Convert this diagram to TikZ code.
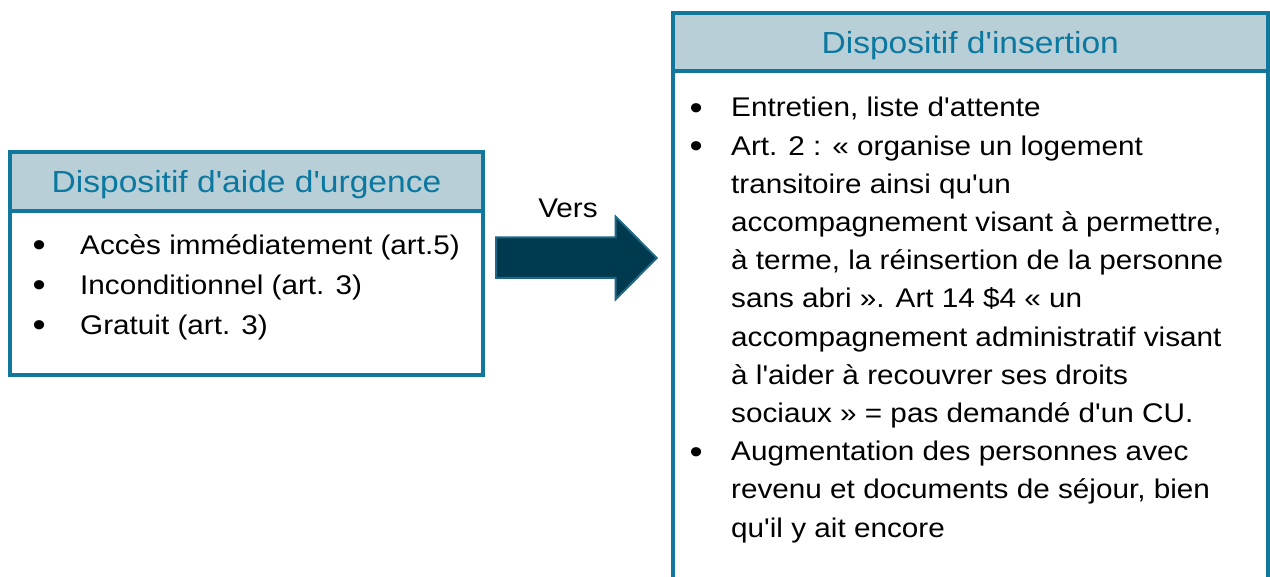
\documentclass[tikz,border=0pt]{standalone}
\usepackage{fontspec}
\newfontfamily\robofont[FakeStretch=1.1]{Liberation Sans}
\usetikzlibrary{positioning}

\definecolor{boxblue}{HTML}{12779C}
\definecolor{headgray}{HTML}{B8CFD8}
\definecolor{titleblue}{HTML}{0B78A0}
\definecolor{arrowfill}{HTML}{003A4E}
\definecolor{arrowline}{HTML}{1F6787}

\newcommand{\puce}{\raisebox{-2.5pt}{\fontsize{34}{0}\selectfont\textbullet}}

\tikzset{
  headbox/.style={draw=boxblue, line width=4pt, fill=headgray, outer sep=0pt,
    text=titleblue, font=\robofont\fontsize{30.5}{36}\selectfont,
    text height=22pt, text depth=0pt},
  bodybox/.style={draw=boxblue, line width=4pt, fill=white, outer sep=0pt},
  listtxt/.style={font=\robofont\fontsize{27}{#1}\selectfont, inner sep=0pt,
    anchor=north west, align=left},
}

\begin{document}
\begin{tikzpicture}[x=1pt,y=-1pt]
  \clip (0,0) rectangle (1270,577);
  \fill[white] (0,0) rectangle (1270,577);

  % Dispositif d'aide d'urgence
  \node[headbox, minimum width=473pt, minimum height=59.5pt] (urghead) at (246.5,181.75) {Dispositif d'aide d'urgence};
  \node[bodybox, minimum width=473pt, minimum height=163.5pt, below=0pt of urghead] (urgbody) {};
  \node[listtxt=40] (urglist) at (32.5,226) {%
    \begin{tabular}{@{}p{47.5pt}@{}l@{}}
      \puce & Accès immédiatement (art.5)\\
      \puce & Inconditionnel (art. 3)\\
      \puce & Gratuit (art. 3)
    \end{tabular}};

  % Fleche
  \draw[fill=arrowfill, draw=arrowline, line width=2pt, line join=miter]
    (496,237.5) -- (615.7,237.5) -- (615.7,216.7) -- (656.7,258)
    -- (615.7,299.3) -- (615.7,278) -- (496,278) -- cycle;
  \node[font=\robofont\fontsize{27}{32}\selectfont, anchor=base] (vers) at (568,217.3) {Vers};

  % Dispositif d'insertion
  \node[headbox, minimum width=594.5pt, minimum height=58pt] (inshead) at (970.25,42.5) {Dispositif d'insertion};
  \node[bodybox, minimum width=594.5pt, minimum height=540pt, below=0pt of inshead] (insbody) {};
  \node[listtxt=38.2] (inslist) at (689.5,90) {%
    \begin{tabular}{@{}p{41.5pt}@{}l@{}}
      \puce & Entretien, liste d'attente\\
      \puce & Art. 2 : « organise un logement\\
            & transitoire ainsi qu'un\\
            & accompagnement visant à permettre,\\
            & à terme, la réinsertion de la personne\\
            & sans abri ». Art 14 \$4 « un\\
            & accompagnement administratif visant\\
            & à l'aider à recouvrer ses droits\\
            & sociaux » = pas demandé d'un CU.\\
      \puce & Augmentation des personnes avec\\
            & revenu et documents de séjour, bien\\
            & qu'il y ait encore
    \end{tabular}};
\end{tikzpicture}
\end{document}
